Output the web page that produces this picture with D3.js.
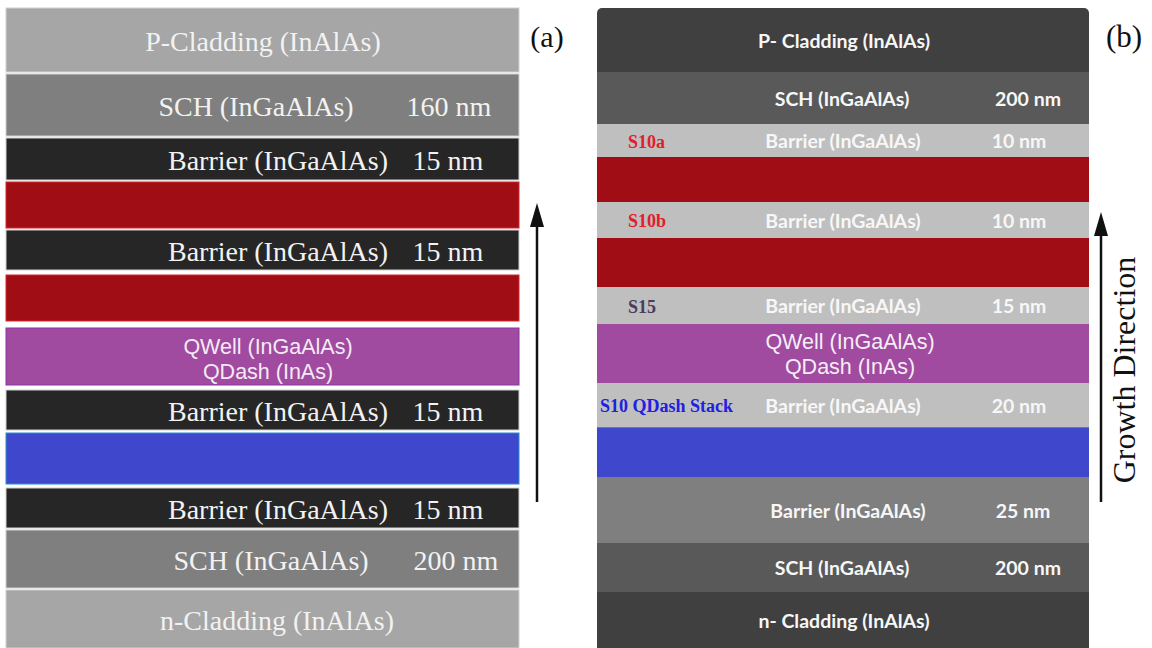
<!DOCTYPE html>
<html>
<head>
<meta charset="utf-8">
<script src="https://cdn.jsdelivr.net/npm/d3@7"></script>
<style>
  html, body { margin: 0; padding: 0; background: #ffffff; }
  svg { display: block; }
</style>
</head>
<body>
<svg id="chart" width="1152" height="648"></svg>
<script>
// ---- Layer stack (a): top of the wafer first ----
const stackANames = ["P-Cladding (InAlAs)", "SCH (InGaAlAs)", "Barrier (InGaAlAs)", "", "Barrier (InGaAlAs)", "",
  "QWell (InGaAlAs)\nQDash (InAs)", "Barrier (InGaAlAs)", "", "Barrier (InGaAlAs)", "SCH (InGaAlAs)", "n-Cladding (InAlAs)"];
const stackAThickness = ["", "160 nm", "15 nm", "", "15 nm", "", "", "15 nm", "", "15 nm", "200 nm", ""];
const stackAKind = ["clad", "sch", "barrier", "red", "barrier", "red", "purple", "barrier", "blue", "barrier", "sch", "clad"];
// Layer extents along the growth axis (drawing units, top = 0)
const stackAStart = [8, 74, 138, 182, 230, 275, 328, 390, 433, 488, 530, 590];
const stackAEnd   = [72, 136, 180, 228, 270, 321, 385, 430, 484, 528, 588, 648];

// ---- Layer stack (b) ----
const stackBNames = ["P- Cladding (InAlAs)", "SCH (InGaAlAs)", "Barrier (InGaAlAs)", "", "Barrier (InGaAlAs)", "",
  "Barrier (InGaAlAs)", "QWell (InGaAlAs)\nQDash (InAs)", "Barrier (InGaAlAs)", "", "Barrier (InGaAlAs)", "SCH (InGaAlAs)", "n- Cladding (InAlAs)"];
const stackBThickness = ["", "200 nm", "10 nm", "", "10 nm", "", "15 nm", "", "20 nm", "", "25 nm", "200 nm", ""];
const stackBSample = ["", "", "S10a", "", "S10b", "", "S15", "", "S10 QDash Stack", "", "", "", ""];
const stackBKind = ["cladB", "schB", "barrierB", "red", "barrierB", "red", "barrierB", "purple", "barrierB", "blue", "barrier25", "schB", "cladB"];
const stackBStart = [8, 72, 124, 157, 202, 238, 287, 324, 383, 427, 477, 543, 592];
const stackBEnd   = [72, 124, 157, 202, 238, 287, 324, 383, 427, 477, 543, 592, 648];

const panelLabels = ["(a)", "(b)"];
const arrowLabelB = "Growth Direction";

// ---- Styles ----
const fillOf = {
  clad: "#a6a6a6", sch: "#7f7f7f", barrier: "#262626", red: "#a00d14", purple: "#a04aa0", blue: "#3f48cc",
  cladB: "#404040", schB: "#595959", barrierB: "#bfbfbf", barrier25: "#7f7f7f"
};
const edgeOf = { red: "#d42a2a", purple: "#8a35a8", blue: "#2a8fd0" };
const sampleColor = { "S10a": "#e0202a", "S10b": "#e0202a", "S15": "#4a3c5c", "S10 QDash Stack": "#2020e0" };

const svg = d3.select("#chart");
const y = d3.scaleLinear().domain([0, 648]).range([0, 648]);

// Horizontal placement of each panel
const xA = d3.scaleLinear().domain([0, 1]).range([6, 519]);
const xB = d3.scaleLinear().domain([0, 1]).range([597, 1089]);

function layerData(names, thick, kind, y0, y1, extra) {
  return names.map((n, i) => ({ name: n, thick: thick[i], kind: kind[i], y0: y0[i], y1: y1[i], sample: extra ? extra[i] : "" }));
}
const layersA = layerData(stackANames, stackAThickness, stackAKind, stackAStart, stackAEnd);
const layersB = layerData(stackBNames, stackBThickness, stackBKind, stackBStart, stackBEnd, stackBSample);

// ---------- Panel (a) ----------
const gA = svg.append("g");
gA.selectAll("rect.layer").data(layersA).join("rect")
  .attr("class", "layer")
  .attr("x", xA(0)).attr("width", xA(1) - xA(0))
  .attr("y", d => y(d.y0)).attr("height", d => y(d.y1) - y(d.y0))
  .attr("fill", d => fillOf[d.kind])
  .attr("stroke", d => edgeOf[d.kind] || "#d0d0d0")
  .attr("stroke-width", 1);

// name / thickness label positions (centre x) for panel (a)
const nameCxA = [263, 256, 278, 0, 278, 0, 268, 278, 0, 278, 271, 277];
const thickCxA = [0, 449, 448, 0, 448, 0, 0, 448, 0, 448, 456, 0];
const serif = "'Liberation Serif', 'Times New Roman', serif";

layersA.forEach((d, i) => {
  if (!d.name) return;
  const cy = (y(d.y0) + y(d.y1)) / 2;
  if (d.kind === "purple") {
    const lines = d.name.split("\n");
    lines.forEach((ln, k) => {
      gA.append("text").attr("x", nameCxA[i]).attr("y", cy - 10 + k * 25)
        .attr("text-anchor", "middle").attr("dominant-baseline", "central")
        .attr("font-family", "'Liberation Sans', Arial, sans-serif").attr("font-size", 21.5)
        .attr("fill", "#f4eaf4").text(ln);
    });
    return;
  }
  gA.append("text").attr("x", nameCxA[i]).attr("y", cy + 1)
    .attr("text-anchor", "middle").attr("dominant-baseline", "central")
    .attr("font-family", serif).attr("font-size", 28)
    .attr("fill", "#f2f2f2").text(d.name);
  if (d.thick) {
    gA.append("text").attr("x", thickCxA[i]).attr("y", cy + 1)
      .attr("text-anchor", "middle").attr("dominant-baseline", "central")
      .attr("font-family", serif).attr("font-size", 28)
      .attr("fill", "#f2f2f2").text(d.thick);
  }
});

// ---------- Panel (b) ----------
const gB = svg.append("g");
const clipB = svg.append("defs").append("clipPath").attr("id", "clipB");
clipB.append("rect").attr("x", xB(0)).attr("y", y(stackBStart[0])).attr("width", xB(1) - xB(0))
  .attr("height", y(648) - y(stackBStart[0]) + 10).attr("rx", 5);
const gBL = gB.append("g").attr("clip-path", "url(#clipB)");
gBL.selectAll("rect.layer").data(layersB).join("rect")
  .attr("class", "layer")
  .attr("x", xB(0)).attr("width", xB(1) - xB(0))
  .attr("y", d => y(d.y0)).attr("height", d => y(d.y1) - y(d.y0))
  .attr("fill", d => fillOf[d.kind]);
// thin edge on the blue layer
gBL.selectAll("line.edge").data(layersB.filter(d => d.kind === "blue")).join("line")
  .attr("class", "edge")
  .attr("x1", xB(0)).attr("x2", xB(1))
  .attr("y1", d => y(d.y0) + 0.5).attr("y2", d => y(d.y0) + 0.5)
  .attr("stroke", "#2a8fd0").attr("stroke-width", 1);

const nameCxB = [844, 842, 843, 0, 843, 0, 843, 850, 843, 0, 848, 842, 844];
const thickCxB = [0, 1028, 1019, 0, 1019, 0, 1019, 0, 1019, 0, 1023, 1028, 0];
const sans = "'Lato', 'Open Sans', sans-serif";

layersB.forEach((d, i) => {
  const cy = (y(d.y0) + y(d.y1)) / 2;
  if (d.kind === "purple") {
    d.name.split("\n").forEach((ln, k) => {
      gB.append("text").attr("x", nameCxB[i]).attr("y", cy - 12 + k * 25)
        .attr("text-anchor", "middle").attr("dominant-baseline", "central")
        .attr("font-family", "'Liberation Sans', Arial, sans-serif").attr("font-size", 21.5)
        .attr("fill", "#f6eef6").text(ln);
    });
    return;
  }
  if (d.name) {
    gB.append("text").attr("x", nameCxB[i]).attr("y", cy)
      .attr("text-anchor", "middle").attr("dominant-baseline", "central")
      .attr("font-family", sans).attr("font-weight", 700).attr("font-size", 19.5)
      .attr("fill", "#f7f7f7").text(d.name);
  }
  if (d.thick) {
    gB.append("text").attr("x", thickCxB[i]).attr("y", cy)
      .attr("text-anchor", "middle").attr("dominant-baseline", "central")
      .attr("font-family", sans).attr("font-weight", 700).attr("font-size", 19.5)
      .attr("fill", "#f7f7f7").text(d.thick);
  }
  if (d.sample) {
    gB.append("text").attr("x", d.sample.length > 4 ? 600 : 628).attr("y", cy + 1)
      .attr("text-anchor", "start").attr("dominant-baseline", "central")
      .attr("font-family", serif).attr("font-weight", 700).attr("font-size", 18)
      .attr("fill", sampleColor[d.sample]).text(d.sample);
  }
});

// ---------- Panel labels and growth arrows ----------
svg.append("text").attr("x", 547).attr("y", 47).attr("text-anchor", "middle")
  .attr("font-family", serif).attr("font-size", 30).attr("fill", "#111").text(panelLabels[0]);
svg.append("text").attr("x", 1124).attr("y", 47).attr("text-anchor", "middle")
  .attr("font-family", serif).attr("font-size", 31).attr("fill", "#111").text(panelLabels[1]);

function arrow(x, yTop, yBottom) {
  svg.append("line").attr("x1", x).attr("x2", x).attr("y1", yBottom).attr("y2", yTop + 20)
    .attr("stroke", "#111").attr("stroke-width", 2.5);
  svg.append("path")
    .attr("d", `M${x},${yTop} L${x - 7},${yTop + 24} L${x + 7},${yTop + 24} Z`)
    .attr("fill", "#111");
}
arrow(537, 203, 502);
arrow(1101, 212, 502);

svg.append("text")
  .attr("transform", "translate(1135,370) rotate(-90)")
  .attr("text-anchor", "middle")
  .attr("font-family", serif).attr("font-size", 32).attr("fill", "#111")
  .text(arrowLabelB);
</script>
</body>
</html>
